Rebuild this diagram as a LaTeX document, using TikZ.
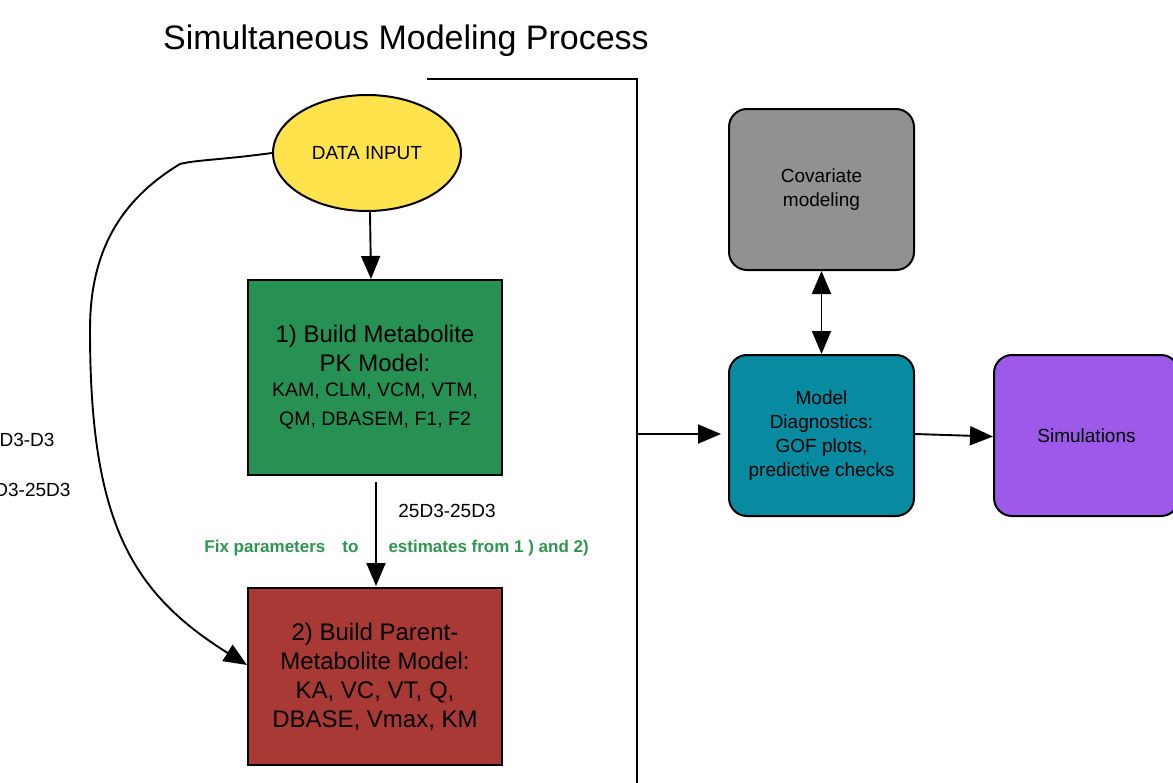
\documentclass[tikz,border=0pt]{standalone}
\usepackage{fontspec}
\setmainfont{Liberation Sans}
\usetikzlibrary{arrows.meta,shapes.geometric,calc}

\definecolor{datayellow}{RGB}{255,227,77}
\definecolor{stepgreen}{RGB}{38,145,82}
\definecolor{stepred}{RGB}{168,57,52}
\definecolor{covgray}{RGB}{145,145,145}
\definecolor{diagteal}{RGB}{8,138,160}
\definecolor{simpurple}{RGB}{157,90,234}
\definecolor{notegreen}{RGB}{46,150,80}

\tikzset{
  fs/.style={font=\fontsize{#1}{#1}\selectfont},
  link/.style={line width=1.9pt,-{Triangle[length=23pt,width=19pt]}},
  bilink/.style={line width=1.9pt,{Triangle[length=23pt,width=19pt]}-{Triangle[length=23pt,width=19pt]}},
  stepbox/.style={draw,line width=2pt,rectangle,minimum width=254pt,align=center,
    font=\fontsize{24}{29}\selectfont},
  roundbox/.style={draw,line width=2pt,rectangle,rounded corners=18pt,
    minimum width=185pt,minimum height=161pt,align=center,
    font=\fontsize{19}{24}\selectfont},
  note/.style={text=notegreen,font=\bfseries\fontsize{17}{20}\selectfont},
}

\begin{document}
\begin{tikzpicture}[x=1pt,y=-1pt]
\useasboundingbox (0,0) rectangle (1173,782);

% title and frame line
\node[fs=34] (title) at (406,41) {Simultaneous Modeling Process};
\coordinate (f0) at (427,79);
\coordinate (f1) at (637,79);
\coordinate (f2) at (637,790);
\draw[line width=1.9pt] (f0) -- (f1) -- (f2);
\coordinate (tap) at (637,434);

% left column
\node[draw,line width=2pt,ellipse,fill=datayellow,minimum width=188pt,minimum height=116pt,
  font=\fontsize{19}{22}\selectfont] (data) at (367,153) {DATA INPUT};

\node[stepbox,fill=stepgreen,minimum height=195pt] (m1) at (375,377.5)
  {1) Build Metabolite\\PK Model:\\[-4pt]
   \fontsize{19.5}{26}\selectfont KAM, CLM, VCM, VTM,\\
   \fontsize{19.5}{26}\selectfont QM, DBASEM, F1, F2};

\node[stepbox,fill=stepred,minimum height=177pt] (m2) at (375,676.5)
  {2) Build Parent-\\Metabolite Model:\\KA, VC, VT, Q,\\DBASE, Vmax, KM};

% right column
\node[roundbox,fill=covgray] (cov) at (821.5,189.5) {Covariate\\modeling};
\node[roundbox,fill=diagteal] (diag) at (821.5,435.5)
  {Model\\Diagnostics:\\GOF plots,\\predictive checks};
\node[roundbox,fill=simpurple] (sim) at (1086.5,435.5) {Simulations};

% labels
\node[fs=19] (lab1) at (447,511) {25D3-25D3};
\node[note,anchor=east] (fixa) at (362,548) {Fix parameters\hspace{17pt}to};
\node[note,anchor=west] (fixb) at (385,548) {estimates from 1 ) and 2)};
\node[fs=19,anchor=east] (lab2) at (58,440) {D3-D3};
\node[fs=19,anchor=east] (lab3) at (74,490) {D3-25D3};

% connectors
\coordinate (dataout) at (370,212);
\coordinate (m1in) at (371,279);
\draw[link] (dataout) -- (m1in);
\coordinate (m1out) at (376,482);
\coordinate (m2in) at (376,586);
\draw[link] (m1out) -- (m2in);
\coordinate (m2side) at (247,665);
\draw[link] (data.west) .. controls (220,160) and (195,160) .. (180,164)
  .. controls (112,205) and (90,262) .. (90,330)
  .. controls (90,520) and (130,592) .. (m2side);
\coordinate (diagin) at (721,434);
\draw[link] (tap) -- (diagin);
\draw[bilink] (cov.south) -- (diag.north);
\draw[link] ($(diag.east)+(0,-1.5)$) -- ($(sim.west)+(0,1)$);
\end{tikzpicture}
\end{document}
